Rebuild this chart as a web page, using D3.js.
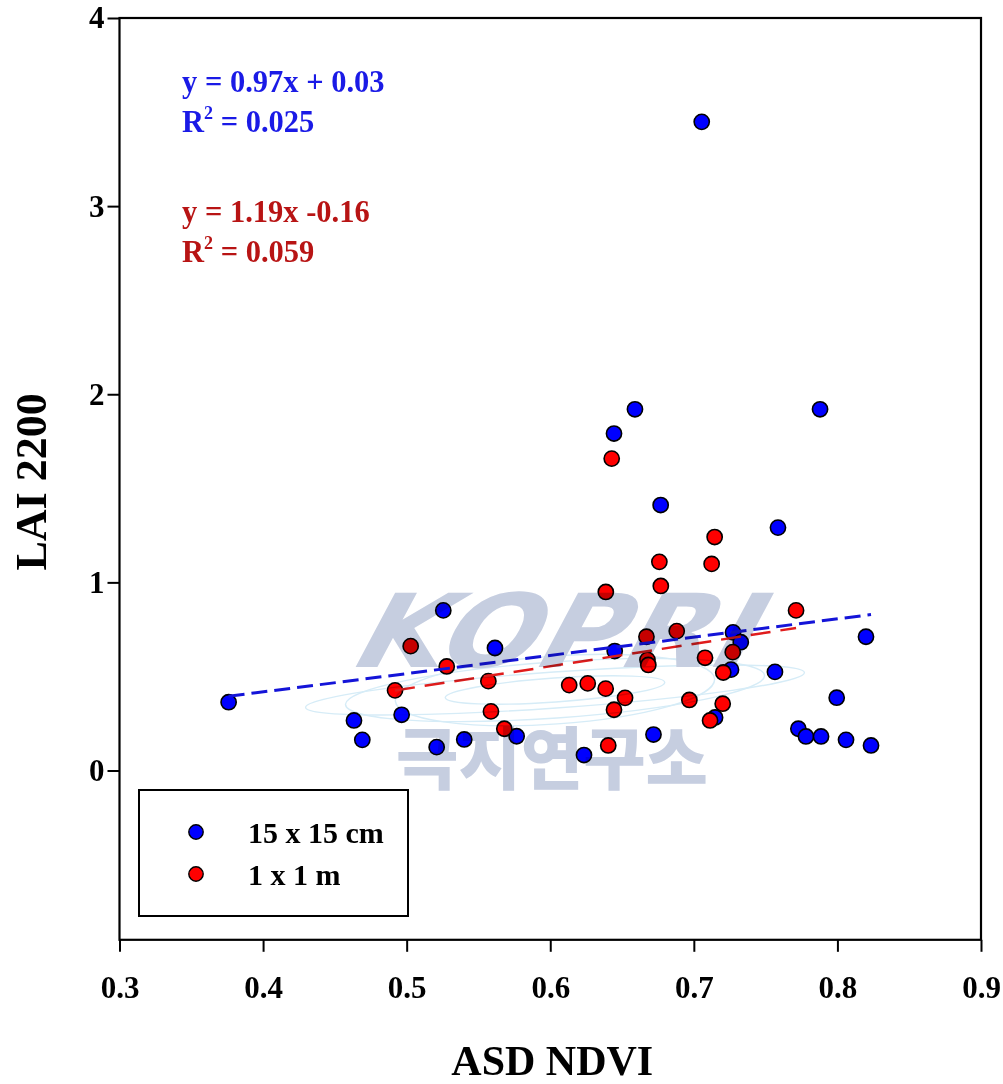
<!DOCTYPE html>
<html>
<head>
<meta charset="utf-8">
<script src="https://cdn.jsdelivr.net/npm/d3@7"></script>
<style>
  body { margin: 0; background: #fff; }
  svg { display: block; }
  .serif { font-family: "Liberation Serif", "Times New Roman", serif; font-weight: bold; }
</style>
</head>
<body>
<svg id="chart" width="1003" height="1084"></svg>
<script>
// Axis ticks
const xTicks = [0.3, 0.4, 0.5, 0.6, 0.7, 0.8, 0.9];
const yTicks = [0, 1, 2, 3, 4];

// Series names (legend)
const seriesNames = ["15 x 15 cm", "1 x 1 m"];

// 15 x 15 cm plots: ASD NDVI vs LAI 2200
const ndvi15 = [0.376, 0.5255, 0.5615, 0.4633, 0.4965, 0.4691, 0.5766, 0.5209, 0.5401, 0.659,
                0.7879, 0.6444, 0.6769, 0.7586, 0.8199, 0.7273, 0.7327, 0.6449, 0.7259, 0.7148,
                0.6719, 0.6235, 0.7565, 0.7995, 0.7728, 0.7781, 0.7886, 0.806, 0.8234, 0.7055];
const lai15  = [0.363, 0.851, 0.651, 0.266, 0.296, 0.163, 0.182, 0.124, 0.165, 1.920,
                1.920, 1.791, 1.411, 1.291, 0.711, 0.734, 0.682, 0.635, 0.536, 0.282,
                0.191, 0.082, 0.524, 0.387, 0.222, 0.181, 0.181, 0.163, 0.133, 3.448];

// 1 x 1 m plots
const ndvi1m = [0.5028, 0.5279, 0.4919, 0.5569, 0.5587, 0.568, 0.6428, 0.7145, 0.676, 0.7124,
                0.677, 0.6387, 0.7712, 0.6881, 0.667, 0.7271, 0.7078, 0.6677, 0.6683, 0.7205,
                0.6132, 0.6261, 0.6386, 0.6521, 0.6444, 0.6969, 0.7201, 0.7113, 0.6404];
const lai1m  = [0.661, 0.553, 0.426, 0.475, 0.314, 0.222, 1.658, 1.241, 1.109, 1.098,
                0.981, 0.949, 0.851, 0.741, 0.711, 0.629, 0.599, 0.588, 0.561, 0.521,
                0.454, 0.463, 0.435, 0.386, 0.323, 0.375, 0.355, 0.266, 0.133];

// Linear fits
const fitSlope = [0.97, 1.19];
const fitIntercept = [0.03, -0.16];
const fitEquation = ["y = 0.97x + 0.03", "y = 1.19x -0.16"];
const fitR2 = ["0.025", "0.059"];

const pointFill = ["#0000ff", "#ff0000"];
const lineColor = ["#1414d8", "#e01c1c"];
const textColor = ["#1a1ae6", "#b81414"];

const svg = d3.select("#chart");
svg.append("rect").attr("width", 1003).attr("height", 1084).attr("fill", "#fff");

const x = d3.scaleLinear().domain([0.3, 0.9]).range([119.5, 981]);
const y = d3.scaleLinear().domain([-0.9, 4]).range([939.8, 18]);

// Axes
const xAxis = svg.append("g")
  .attr("transform", `translate(0,${y(-0.9)})`)
  .call(d3.axisBottom(x).tickValues(xTicks).tickSize(12).tickPadding(24).tickFormat(d3.format(".1f")));
const yAxis = svg.append("g")
  .attr("transform", `translate(${x(0.3)},0)`)
  .call(d3.axisLeft(y).tickValues(yTicks).tickSize(12).tickPadding(3).tickFormat(d3.format("d")));
[xAxis, yAxis].forEach(g => {
  g.select(".domain").remove();
  g.selectAll(".tick line").attr("stroke", "#000").attr("stroke-width", 2);
  g.selectAll(".tick text").attr("class", "serif").attr("font-size", 31).attr("fill", "#000");
});

// Plot frame
svg.append("rect")
  .attr("x", x(0.3)).attr("y", y(4))
  .attr("width", x(0.9) - x(0.3)).attr("height", y(-0.9) - y(4))
  .attr("fill", "none").attr("stroke", "#000").attr("stroke-width", 2.2);

// Axis titles
svg.append("text").attr("class", "serif")
  .attr("x", (x(0.3) + x(0.9)) / 2 + 2).attr("y", 1075)
  .attr("text-anchor", "middle").attr("font-size", 42).text("ASD NDVI");
svg.append("text").attr("class", "serif")
  .attr("transform", `translate(46,${(y(4) + y(-0.9)) / 2 + 3}) rotate(-90)`)
  .attr("text-anchor", "middle").attr("font-size", 44).text("LAI 2200");

// Points
const series = [
  { xs: ndvi15, ys: lai15 },
  { xs: ndvi1m, ys: lai1m }
];
series.forEach((s, i) => {
  svg.append("g").selectAll("circle")
    .data(s.xs.map((v, k) => [v, s.ys[k]]))
    .join("circle")
    .attr("cx", d => x(d[0])).attr("cy", d => y(d[1]))
    .attr("r", 7.6)
    .attr("fill", pointFill[i]).attr("stroke", "#000").attr("stroke-width", 1.6);
});

// Regression lines over each series' NDVI range
const dashes = ["16,7", "20,10"];
const widths = [3, 2.5];
series.forEach((s, i) => {
  const [x0, x1] = d3.extent(s.xs);
  svg.append("line")
    .attr("x1", x(x0)).attr("y1", y(fitSlope[i] * x0 + fitIntercept[i]))
    .attr("x2", x(x1)).attr("y2", y(fitSlope[i] * x1 + fitIntercept[i]))
    .attr("stroke", lineColor[i]).attr("stroke-width", widths[i])
    .attr("stroke-dasharray", dashes[i]);
});

// Fit equations
const eqTop = [92, 222];
fitEquation.forEach((eq, i) => {
  svg.append("text").attr("class", "serif").attr("x", 182).attr("y", eqTop[i])
    .attr("font-size", 30.5).attr("fill", textColor[i]).text(eq);
  const r = svg.append("text").attr("class", "serif").attr("x", 182).attr("y", eqTop[i] + 40)
    .attr("font-size", 30.5).attr("fill", textColor[i]);
  r.append("tspan").text("R");
  r.append("tspan").attr("font-size", 18).attr("dy", -13).text("2");
  r.append("tspan").attr("dy", 13).text(" = " + fitR2[i]);
});

// Legend
const legend = svg.append("g");
legend.append("rect").attr("x", 139).attr("y", 790).attr("width", 269).attr("height", 126)
  .attr("fill", "#fff").attr("stroke", "#000").attr("stroke-width", 2);
seriesNames.forEach((name, i) => {
  const cy = 832 + i * 42;
  legend.append("circle").attr("cx", 196).attr("cy", cy).attr("r", 7.2)
    .attr("fill", pointFill[i]).attr("stroke", "#000").attr("stroke-width", 1.4);
  legend.append("text").attr("class", "serif").attr("x", 248).attr("y", cy + 11)
    .attr("font-size", 30).text(name);
});

// Institute watermark
const wm = svg.append("g").style("mix-blend-mode", "multiply").attr("pointer-events", "none");
const globe = wm.append("g").attr("fill", "none").attr("stroke", "#d6ecf7").attr("stroke-width", 1.4)
  .attr("transform", "translate(555,690) rotate(-4)");
[[250, 18], [210, 28], [160, 34], [110, 12]].forEach(([rx, ry]) => {
  globe.append("ellipse").attr("rx", rx).attr("ry", ry);
});
wm.append("text")
  .attr("transform", "translate(345,667) skewX(-28)")
  .attr("font-family", "'DejaVu Sans', sans-serif").attr("font-weight", "bold")
  .attr("font-size", 102).attr("fill", "#c6cee0")
  .attr("textLength", 400).attr("lengthAdjust", "spacingAndGlyphs")
  .text("KOPRI");
wm.append("text")
  .attr("x", 396).attr("y", 784)
  .attr("font-family", "'Noto Sans CJK KR', sans-serif").attr("font-weight", 900)
  .attr("font-size", 68).attr("fill", "#c6cee0")
  .attr("textLength", 312).attr("lengthAdjust", "spacingAndGlyphs")
  .text("극지연구소");
</script>
</body>
</html>
